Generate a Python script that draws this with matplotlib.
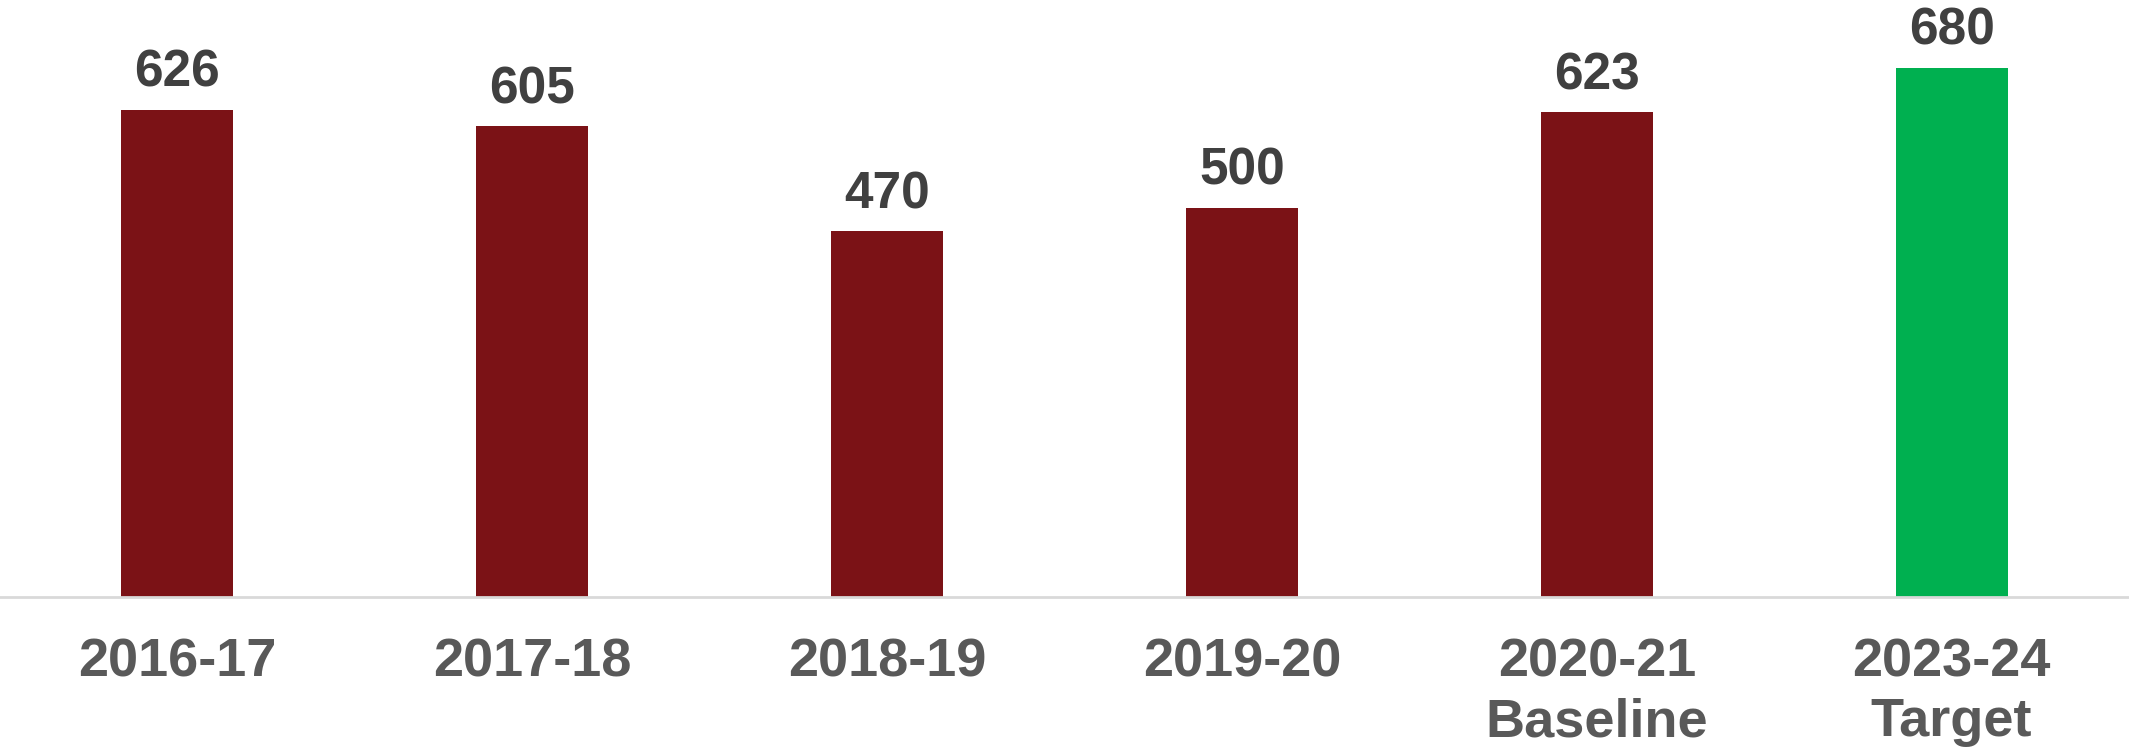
import numpy as np
import matplotlib.pyplot as plt
from matplotlib import font_manager

# data
years = ['2016-17', '2017-18', '2018-19', '2019-20', '2020-21\nBaseline', '2023-24\nTarget']
values = [626, 605, 470, 500, 623, 680]
colors = ['#7B1216', '#7B1216', '#7B1216', '#7B1216', '#7B1216', '#00B050']

names = set(f.name for f in font_manager.fontManager.ttflist)
narrow = 'Liberation Sans Narrow' if 'Liberation Sans Narrow' in names else 'Liberation Sans'

fig = plt.figure(figsize=(21.29, 7.5), dpi=100)
ax = fig.add_axes([0, 153 / 750, 1, 597 / 750])

x = np.arange(len(years))
bars = ax.bar(x, values, width=0.316, color=colors)

for b, v in zip(bars, values):
    ax.annotate(str(v), (b.get_x() + b.get_width() / 2, v), xytext=(0, 16.5),
                textcoords='offset points', ha='center', va='baseline',
                fontsize=37, fontweight='bold', color='#404040',
                family='Liberation Sans')

ax.set_xlim(-0.5, 5.5)
ax.set_ylim(0, 767)
ax.set_yticks([])
ax.set_xticks(x)
ax.set_xticklabels(years, fontsize=39, fontweight='bold', color='#595959',
                   family='Liberation Sans', linespacing=1.26)
ax.tick_params(axis='x', length=0, pad=29)
for lab in ax.get_xticklabels()[4:]:
    lab.set_family(narrow)

for s in ['top', 'left', 'right']:
    ax.spines[s].set_visible(False)
ax.spines['bottom'].set_color('#D9D9D9')
ax.spines['bottom'].set_linewidth(2)

fig.savefig('out.png', dpi=100)
